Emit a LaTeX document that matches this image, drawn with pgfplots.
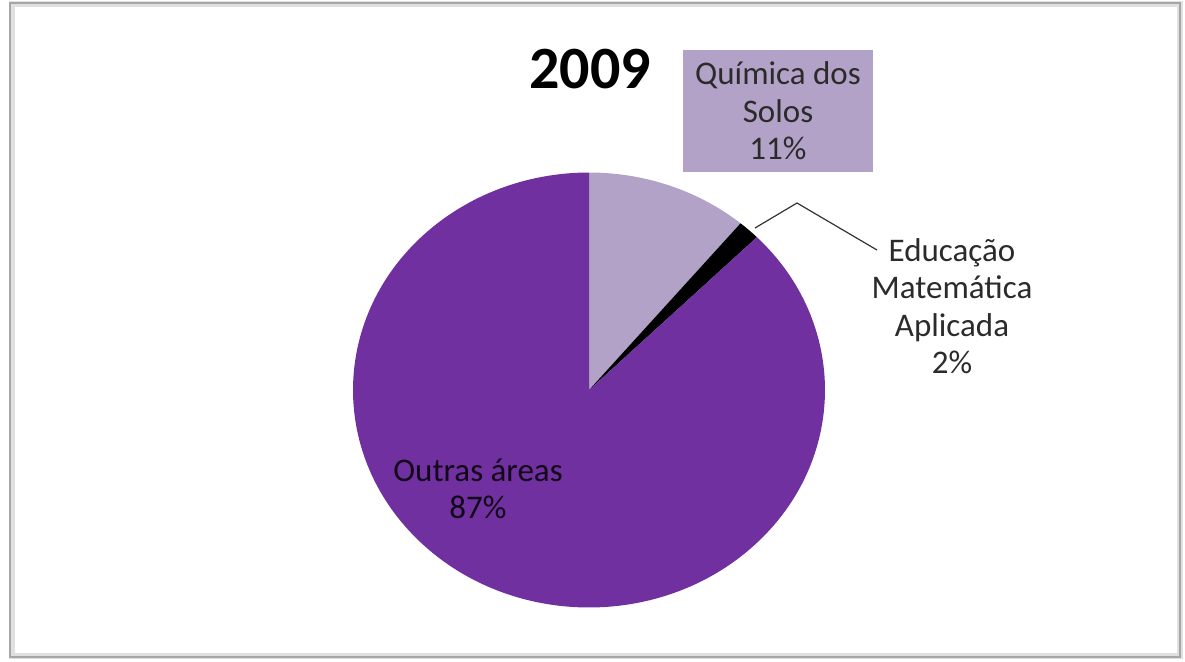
\documentclass[border=0pt]{standalone}
\usepackage{pgfplots}
\usepackage{pgfplotstable}
\pgfplotsset{compat=1.18}
\usepackage{fontspec}
\setmainfont{Carlito}
\definecolor{lightpurp}{HTML}{B3A2C7}
\definecolor{darkpurp}{HTML}{7030A0}
\definecolor{txt}{HTML}{2B2B2B}
\pgfplotstableread{
key value
quimica 11.1
educacao 1.5
outras 87.4
}\piedata
\begin{document}
\begin{tikzpicture}
\begin{axis}[
  scale only axis, width=592.5pt, height=330.5pt,
  xmin=0, xmax=1185, ymin=0, ymax=661,
  hide axis, clip=false]
\pgfplotsextra{
  \path (axis cs:0,0) rectangle (axis cs:1185,661);
  % frame
  \draw[black!12, line width=3pt] (axis cs:12,5) rectangle (axis cs:1180,657);
  \draw[black!35, line width=0.8pt] (axis cs:10,4) rectangle (axis cs:1180,658);
  \pgfplotstablegetelem{0}{value}\of\piedata \let\va\pgfplotsretval
  \pgfplotstablegetelem{1}{value}\of\piedata \let\vb\pgfplotsretval
  \pgfplotstablegetelem{2}{value}\of\piedata \let\vc\pgfplotsretval
  \pgfmathsetmacro\aA{90-3.6*\va}
  \pgfmathsetmacro\aB{\aA-3.6*\vb}
  \pgfmathsetmacro\aC{\aB-3.6*\vc}
  \fill[lightpurp] (axis cs:589,271) -- ++(90:118pt and 108.75pt)
     arc[start angle=90, end angle=\aA, x radius=118pt, y radius=108.75pt] -- cycle;
  \fill[black] (axis cs:589,271) -- ++(\aA:118pt and 108.75pt)
     arc[start angle=\aA, end angle=\aB, x radius=118pt, y radius=108.75pt] -- cycle;
  \fill[darkpurp] (axis cs:589,271) -- ++(\aB:118pt and 108.75pt)
     arc[start angle=\aB, end angle=\aC, x radius=118pt, y radius=108.75pt] -- cycle;
  % title
  \node[font=\fontsize{30}{34}\selectfont\bfseries, text=black] at (axis cs:590,592) {2009};
  % labels
  \fill[lightpurp] (axis cs:683,489) rectangle (axis cs:873,611);
  \node[align=center, text=txt, font=\fontsize{16.5}{18.7}\selectfont] at (axis cs:778,550)
     {Química dos\\Solos\\11\%};
  \draw[black!80, line width=0.6pt] (axis cs:755,433) -- (axis cs:797,458) -- (axis cs:877,411);
  \node[align=center, text=txt, font=\fontsize{16.5}{18.7}\selectfont] at (axis cs:952,355)
     {Educação\\Matemática\\Aplicada\\2\%};
  \node[align=center, text=black!85!darkpurp, font=\fontsize{16.5}{18.7}\selectfont] at (axis cs:478,172)
     {Outras áreas\\87\%};
}
\end{axis}
\end{tikzpicture}
\end{document}
